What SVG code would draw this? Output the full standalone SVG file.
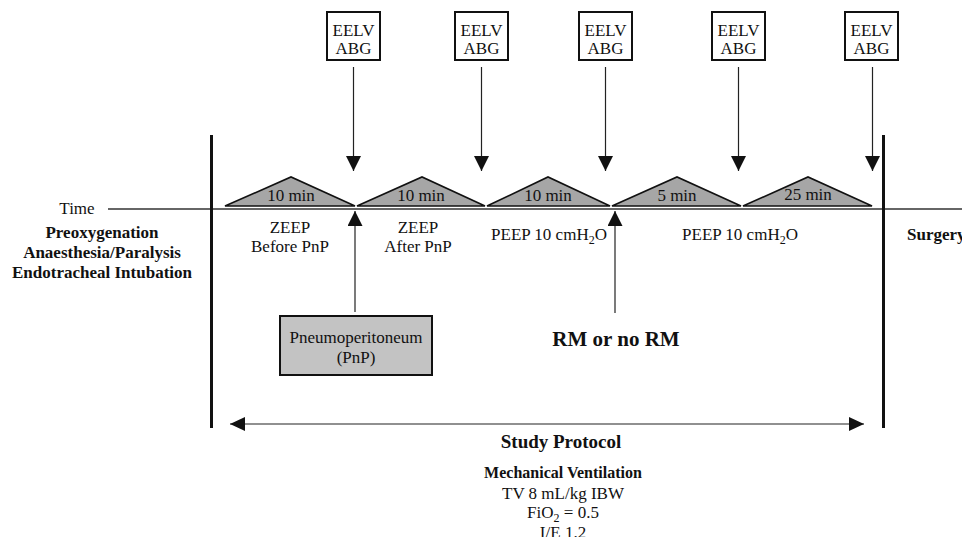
<svg xmlns="http://www.w3.org/2000/svg" width="962" height="537" viewBox="0 0 962 537">
<style>
text{font-family:"Liberation Serif","Times New Roman",serif;font-size:17px;fill:#111;}
.c{text-anchor:middle;}
.b{font-weight:bold;}
.box{fill:#fff;stroke:#111;stroke-width:2;}
.tri{fill:#a6a6a6;stroke:#111;stroke-width:1.6;stroke-linejoin:miter;}
.conn{stroke:#222;stroke-width:1.2;fill:none;}
.bar{stroke:#111;stroke-width:3;}
</style>
<defs>
<marker id="ah" viewBox="0 0 15 15" refX="15" refY="7.5" markerWidth="15" markerHeight="15" markerUnits="userSpaceOnUse" orient="auto">
<path d="M0,0 L15,7.5 L0,15 Z" fill="#111"/>
</marker>
<marker id="ahs" viewBox="0 0 15 14" refX="15" refY="7" markerWidth="15" markerHeight="14" markerUnits="userSpaceOnUse" orient="auto-start-reverse">
<path d="M0,0 L15,7 L0,14 Z" fill="#111"/>
</marker>
</defs>
<rect width="962" height="537" fill="#fff"/>

<g id="timeline">
<text x="77" y="214" class="c">Time</text>
<line x1="108" y1="209" x2="962" y2="209" stroke="#333" stroke-width="1.3"/>
</g>

<g id="bars">
<line class="bar" x1="211.5" y1="135" x2="211.5" y2="428"/>
<line class="bar" x1="883.5" y1="135" x2="883.5" y2="428"/>
</g>

<g id="phases">
<polygon class="tri" points="225,206 291,177 355,206"/>
<text x="291" y="201" class="c">10 min</text>
<polygon class="tri" points="357,206 422,177 485,206"/>
<text x="421" y="201" class="c">10 min</text>
<polygon class="tri" points="487,206 548,177 610,206"/>
<text x="548" y="201" class="c">10 min</text>
<polygon class="tri" points="612,206 677,177 741,206"/>
<text x="677" y="201" class="c">5 min</text>
<polygon class="tri" points="743,206 808,177 872,206"/>
<text x="808" y="200" class="c">25 min</text>
</g>

<g id="eelv1"><rect class="box" x="327" y="12" width="53" height="48"/><text x="353.5" y="36" class="c">EELV</text><text x="353.5" y="54" class="c">ABG</text></g>
<g id="eelv2"><rect class="box" x="455" y="12" width="53" height="48"/><text x="481.5" y="36" class="c">EELV</text><text x="481.5" y="54" class="c">ABG</text></g>
<g id="eelv3"><rect class="box" x="579" y="12" width="53" height="48"/><text x="605.5" y="36" class="c">EELV</text><text x="605.5" y="54" class="c">ABG</text></g>
<g id="eelv4"><rect class="box" x="712" y="12" width="53" height="48"/><text x="738.5" y="36" class="c">EELV</text><text x="738.5" y="54" class="c">ABG</text></g>
<g id="eelv5"><rect class="box" x="845" y="12" width="53" height="48"/><text x="871.5" y="36" class="c">EELV</text><text x="871.5" y="54" class="c">ABG</text></g>

<g id="labels">
<text x="290" y="233" class="c">ZEEP</text>
<text x="290" y="252" class="c">Before PnP</text>
<text x="418" y="233" class="c">ZEEP</text>
<text x="418" y="252" class="c">After PnP</text>
<text x="549" y="240" class="c">PEEP 10 cmH<tspan dy="4" font-size="12">2</tspan><tspan dy="-4">O</tspan></text>
<text x="740" y="240" class="c">PEEP 10 cmH<tspan dy="4" font-size="12">2</tspan><tspan dy="-4">O</tspan></text>
</g>

<g id="pre">
<text x="102" y="238" class="c b">Preoxygenation</text>
<text x="102" y="258" class="c b">Anaesthesia/Paralysis</text>
<text x="102" y="278" class="c b">Endotracheal Intubation</text>
</g>

<g id="surgery"><text x="907" y="240" class="b">Surgery</text></g>

<g id="pnp">
<rect x="280" y="316" width="152" height="59" fill="#c3c3c3" stroke="#111" stroke-width="2"/>
<text x="356" y="343" class="c">Pneumoperitoneum</text>
<text x="356" y="363" class="c">(PnP)</text>
</g>

<g id="rm"><text x="616" y="346" class="c b" style="font-size:21px">RM or no RM</text></g>

<g id="protocol">
<text x="561" y="448" class="c b" style="font-size:19px">Study Protocol</text>
<text x="563" y="478" class="c b" style="font-size:16px">Mechanical Ventilation</text>
<text x="563" y="499" class="c">TV 8 mL/kg IBW</text>
<text x="563" y="518" class="c">FiO<tspan dy="4" font-size="12">2</tspan><tspan dy="-4"> = 0.5</tspan></text>
<text x="563" y="538" class="c">I/E 1.2</text>
</g>

<g id="connectors">
<line class="conn" x1="353.5" y1="67" x2="353.5" y2="171" marker-end="url(#ah)"/>
<line class="conn" x1="481.5" y1="67" x2="481.5" y2="171" marker-end="url(#ah)"/>
<line class="conn" x1="605.5" y1="67" x2="605.5" y2="171" marker-end="url(#ah)"/>
<line class="conn" x1="738.5" y1="67" x2="738.5" y2="171" marker-end="url(#ah)"/>
<line class="conn" x1="872.5" y1="67" x2="872.5" y2="171" marker-end="url(#ah)"/>
<line class="conn" x1="355" y1="312" x2="355" y2="211" marker-end="url(#ah)"/>
<line class="conn" x1="615" y1="313" x2="615" y2="211" marker-end="url(#ah)"/>
<line class="conn" x1="230" y1="424" x2="864" y2="424" marker-start="url(#ahs)" marker-end="url(#ahs)"/>
</g>
</svg>
